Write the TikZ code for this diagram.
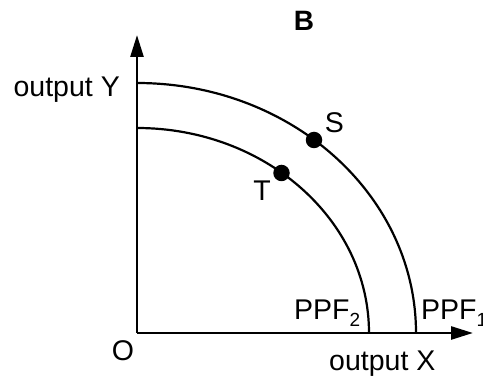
\documentclass[tikz,border=0pt]{standalone}
\usepackage{fontspec}
\setmainfont{Liberation Sans}
\usetikzlibrary{arrows.meta}
\newcommand{\mysub}[1]{\raisebox{-7pt}{\fontsize{19}{20}\selectfont #1}}
\begin{document}
\begin{tikzpicture}[x=1pt,y=1pt,
  axis/.style={line width=2.6pt,-{Triangle[length=22pt,width=13pt]}},
  ppf/.style={line width=2.2pt},
  dot/.style={circle,fill=black,inner sep=0pt,minimum size=16.5pt},
  lbl/.style={font=\fontsize{28.5}{31}\selectfont,inner sep=0pt}]
\useasboundingbox (0,0) rectangle (483,378);
\coordinate (O) at (137,45);
\coordinate (Ytip) at (137,343);
\coordinate (Xtip) at (473,45);
\draw[axis] (O) -- (Ytip);
\draw[axis] (O) -- (Xtip);
\draw[ppf] (137,295) arc[start angle=90,end angle=0,x radius=279,y radius=250];
\draw[ppf] (137,250) arc[start angle=90,end angle=0,x radius=232,y radius=205];
\node[dot] (S) at (314,238) {};
\node[dot] (T) at (281.5,205) {};
\node[lbl,anchor=east] (ly) at (120,288) {output Y};
\node[lbl,font=\fontsize{28}{30}\selectfont\bfseries] (lb) at (304,357) {B};
\node[lbl] (ls) at (334.5,255.5) {S};
\node[lbl] (lt) at (262,187.5) {T};
\node[lbl] (lo) at (123,27) {O};
\node[lbl,anchor=base west] (lx) at (329,7) {output X};
\node[lbl,anchor=base west] (p2) at (294,58) {PPF\mysub{2}};
\node[lbl,anchor=base west] (p1) at (421,58) {PPF\mysub{1}};
\end{tikzpicture}
\end{document}
